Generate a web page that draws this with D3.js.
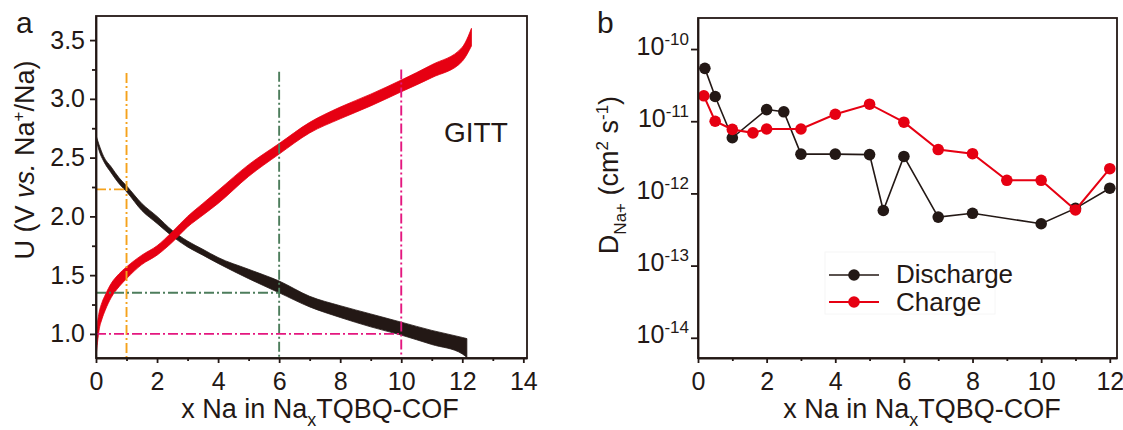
<!DOCTYPE html>
<html><head><meta charset="utf-8">
<script src="https://cdn.jsdelivr.net/npm/d3@7"></script>
<style>
body{margin:0;background:#fff;}
svg text{font-family:"Liberation Sans",Arial,Helvetica,sans-serif;fill:#231815;}
</style></head><body><svg id="c" width="1123" height="430"></svg>
<script>
// ---------- Panel a data (GITT voltage profile, envelope of relaxation band) ----------
const dischargeX    = [0, 0.1, 0.25, 0.5, 0.75, 1, 1.5, 2, 2.5, 3, 3.5, 4, 5, 6, 7, 8, 9, 10, 11, 12, 12.15];
const dischargeHigh = [2.69, 2.61, 2.51, 2.42, 2.33, 2.26, 2.11, 2.00, 1.88, 1.79, 1.72, 1.65, 1.55, 1.45, 1.32, 1.24, 1.17, 1.10, 1.03, 0.97, 0.96];
const dischargeLow  = [2.66, 2.56, 2.47, 2.37, 2.28, 2.21, 2.05, 1.94, 1.83, 1.74, 1.67, 1.60, 1.47, 1.35, 1.23, 1.14, 1.06, 0.99, 0.91, 0.83, 0.80];
const chargeX    = [0, 0.05, 0.1, 0.2, 0.3, 0.5, 0.75, 1, 1.5, 2, 2.5, 3, 3.5, 4, 5, 6, 7, 8, 9, 10, 11, 12, 12.3];
const chargeHigh = [0.95, 1.10, 1.18, 1.27, 1.33, 1.43, 1.51, 1.57, 1.67, 1.75, 1.87, 2.00, 2.11, 2.22, 2.44, 2.62, 2.80, 2.93, 3.04, 3.16, 3.29, 3.44, 3.60];
const chargeLow  = [0.80, 0.93, 1.03, 1.13, 1.20, 1.31, 1.40, 1.47, 1.59, 1.67, 1.78, 1.91, 2.01, 2.11, 2.34, 2.53, 2.71, 2.83, 2.94, 3.06, 3.18, 3.32, 3.45];
// guide lines (x Na, U, top of vertical guide)
const guideX   = [1, 6, 10];
const guideU   = [2.23, 1.35, 1.0];
const guideTop = [3.22, 3.23, 3.25];
const xTicksA = [0, 2, 4, 6, 8, 10, 12, 14];
const xMinorA = [1, 3, 5, 7, 9, 11, 13];
const yTicksA = [1.0, 1.5, 2.0, 2.5, 3.0, 3.5];
const yMinorA = [1.25, 1.75, 2.25, 2.75, 3.25];

// ---------- Panel b data (diffusion coefficient) ----------
const dischargeDX = [0.2, 0.5, 1, 2, 2.5, 3, 4, 5, 5.4, 6, 7, 8, 10, 11, 12];
const dischargeD  = [5.4e-11, 2.2e-11, 5.9e-12, 1.45e-11, 1.35e-11, 3.5e-12, 3.5e-12, 3.45e-12, 5.8e-13, 3.25e-12, 4.7e-13, 5.3e-13, 3.8e-13, 6.2e-13, 1.18e-12];
const chargeDX = [0.17, 0.5, 1, 1.6, 2, 3, 4, 5, 6, 7, 8, 9, 10, 11, 12];
const chargeD  = [2.25e-11, 1.0e-11, 7.7e-12, 6.9e-12, 7.8e-12, 7.8e-12, 1.25e-11, 1.72e-11, 9.7e-12, 4.05e-12, 3.55e-12, 1.52e-12, 1.52e-12, 5.9e-13, 2.2e-12];
const xTicksB = [0, 2, 4, 6, 8, 10, 12];
const xMinorB = [1, 3, 5, 7, 9, 11];
const yExpB = [-10, -11, -12, -13, -14];
const seriesNames = ["Discharge", "Charge"];

// ---------- styles ----------
const INK = "#231815", RED = "#e60012";
const guideColors = ["#f5a21c", "#4d7d5c", "#e4177f"];
const svg = d3.select("#c");

// ================= Panel a =================
const xA = d3.scaleLinear().domain([0, 14.12]).range([96, 527]);
const yA = d3.scaleLinear().domain([0.795, 3.705]).range([358, 16]);
const gA = svg.append("g");
gA.append("clipPath").attr("id", "clipA").append("rect")
  .attr("x", 96).attr("y", 16).attr("width", 431).attr("height", 342);
const plotA = gA.append("g").attr("clip-path", "url(#clipA)");

function band(X, H, L) {
  return d3.area().x((d, i) => xA(X[i])).y0((d, i) => yA(L[i])).y1((d, i) => yA(H[i]))
    .curve(d3.curveMonotoneX)(X);
}
plotA.append("path").attr("d", band(dischargeX, dischargeHigh, dischargeLow))
  .attr("fill", INK).attr("stroke", INK).attr("stroke-width", 0.8);
plotA.append("path").attr("d", band(chargeX, chargeHigh, chargeLow))
  .attr("fill", RED).attr("stroke", RED).attr("stroke-width", 0.8);

guideX.forEach((gx, i) => {
  const common = s => s.attr("stroke", guideColors[i]).attr("stroke-width", 1.9)
    .attr("stroke-dasharray", "10,3,2,3").attr("fill", "none");
  common(plotA.append("line").attr("x1", xA(gx)).attr("x2", xA(gx))
    .attr("y1", yA(guideTop[i])).attr("y2", yA(0.795)));
  common(plotA.append("line").attr("x1", xA(0)).attr("x2", xA(gx))
    .attr("y1", yA(guideU[i])).attr("y2", yA(guideU[i])));
});

function styleAxis(g) {
  g.selectAll("path,line").attr("stroke", INK).attr("stroke-width", 1.8);
  g.selectAll("text").attr("fill", INK).style("font-size", "25px");
}
const axXA = gA.append("g").attr("transform", "translate(0,358)")
  .call(d3.axisBottom(xA).tickValues(xTicksA).tickSize(5).tickSizeOuter(0).tickPadding(9).tickFormat(d3.format("d")));
styleAxis(axXA);
gA.append("g").attr("transform", "translate(0,358)")
  .call(d3.axisBottom(xA).tickValues(xMinorA).tickSize(3).tickSizeOuter(0).tickFormat(""))
  .call(g => { g.select(".domain").remove(); styleAxis(g); });
const axYA = gA.append("g").attr("transform", "translate(96,0)")
  .call(d3.axisLeft(yA).tickValues(yTicksA).tickSize(6).tickSizeOuter(0).tickPadding(5).tickFormat(d3.format(".1f")));
styleAxis(axYA);
gA.append("g").attr("transform", "translate(96,0)")
  .call(d3.axisLeft(yA).tickValues(yMinorA).tickSize(4).tickSizeOuter(0).tickFormat(""))
  .call(g => { g.select(".domain").remove(); styleAxis(g); });
gA.append("rect").attr("x", 96).attr("y", 16).attr("width", 431).attr("height", 342)
  .attr("fill", "none").attr("stroke", INK).attr("stroke-width", 1.8);

gA.append("text").attr("x", 444).attr("y", 142).style("font-size", "28px").text("GITT");
gA.append("text").attr("x", 16).attr("y", 33).style("font-size", "30px").text("a");

// x title a
const tXA = gA.append("text").attr("x", 320).attr("y", 418).attr("text-anchor", "middle").style("font-size", "27px");
tXA.append("tspan").text("x Na in Na");
tXA.append("tspan").attr("dy", 8).style("font-size", "18px").text("x");
tXA.append("tspan").attr("dy", -8).text("TQBQ-COF");
// y title a
const tYA = gA.append("text").attr("transform", "translate(34,160) rotate(-90)").attr("text-anchor", "middle").style("font-size", "27px");
tYA.append("tspan").text("U (V ");
tYA.append("tspan").style("font-style", "italic").text("vs.");
tYA.append("tspan").text(" Na");
tYA.append("tspan").attr("dy", -10).style("font-size", "17px").text("+");
tYA.append("tspan").attr("dy", 10).text("/Na)");

// ================= Panel b =================
const xB = d3.scaleLinear().domain([0, 12.21]).range([698, 1117]);
const yB = d3.scaleLog().domain([Math.pow(10, -14.28), Math.pow(10, -9.57)]).range([358, 18]);
const gB = svg.append("g");

const lineB = (X, Y) => d3.line().x((d, i) => xB(X[i])).y((d, i) => yB(Y[i]))(X);
[[dischargeDX, dischargeD, INK, 1.6], [chargeDX, chargeD, RED, 2]].forEach(([X, Y, col, w]) => {
  gB.append("path").attr("d", lineB(X, Y)).attr("fill", "none").attr("stroke", col).attr("stroke-width", w);
  gB.append("g").selectAll("circle").data(X).join("circle")
    .attr("cx", d => xB(d)).attr("cy", (d, i) => yB(Y[i])).attr("r", 5.8).attr("fill", col);
});

const axXB = gB.append("g").attr("transform", "translate(0,358)")
  .call(d3.axisBottom(xB).tickValues(xTicksB).tickSize(5).tickSizeOuter(0).tickPadding(9).tickFormat(d3.format("d")));
styleAxis(axXB);
gB.append("g").attr("transform", "translate(0,358)")
  .call(d3.axisBottom(xB).tickValues(xMinorB).tickSize(3).tickSizeOuter(0).tickFormat(""))
  .call(g => { g.select(".domain").remove(); styleAxis(g); });
const axYB = gB.append("g").attr("transform", "translate(698,0)")
  .call(d3.axisLeft(yB).tickValues(yExpB.map(e => Math.pow(10, e))).tickSize(7).tickSizeOuter(0).tickPadding(2).tickFormat(""));
styleAxis(axYB);
axYB.selectAll(".tick text").each(function (d, i) {
  const t = d3.select(this).attr("dy", "0.2em");
  t.append("tspan").text("10");
  t.append("tspan").attr("dy", -10).style("font-size", "17px").text(String(yExpB[i]));
});
gB.append("rect").attr("x", 698).attr("y", 18).attr("width", 419).attr("height", 340)
  .attr("fill", "none").attr("stroke", INK).attr("stroke-width", 1.8);

gB.append("text").attr("x", 597).attr("y", 33).style("font-size", "30px").text("b");

// x title b
const tXB = gB.append("text").attr("x", 922).attr("y", 418).attr("text-anchor", "middle").style("font-size", "27px");
tXB.append("tspan").text("x Na in Na");
tXB.append("tspan").attr("dy", 8).style("font-size", "18px").text("x");
tXB.append("tspan").attr("dy", -8).text("TQBQ-COF");
// y title b
const tYB = gB.append("text").attr("transform", "translate(618,175) rotate(-90)").attr("text-anchor", "middle").style("font-size", "27px");
tYB.append("tspan").text("D");
tYB.append("tspan").attr("dy", 8).style("font-size", "17px").text("Na+");
tYB.append("tspan").attr("dy", -8).text(" (cm");
tYB.append("tspan").attr("dy", -10).style("font-size", "17px").text("2");
tYB.append("tspan").attr("dy", 10).text(" s");
tYB.append("tspan").attr("dy", -10).style("font-size", "17px").text("-1");
tYB.append("tspan").attr("dy", 10).text(")");

// legend
const leg = gB.append("g");
leg.append("rect").attr("x", 825).attr("y", 252).attr("width", 170).attr("height", 62)
  .attr("fill", "none").attr("stroke", "#f6f6f6").attr("stroke-width", 1);
[[INK, 275, 283], [RED, 302, 311]].forEach(([col, y, ty], i) => {
  leg.append("line").attr("x1", 829).attr("x2", 879).attr("y1", y).attr("y2", y)
    .attr("stroke", col).attr("stroke-width", i ? 2 : 1.6);
  leg.append("circle").attr("cx", 854).attr("cy", y).attr("r", 5.8).attr("fill", col);
  leg.append("text").attr("x", 896).attr("y", ty).style("font-size", "26px").text(seriesNames[i]);
});
</script></body></html>
